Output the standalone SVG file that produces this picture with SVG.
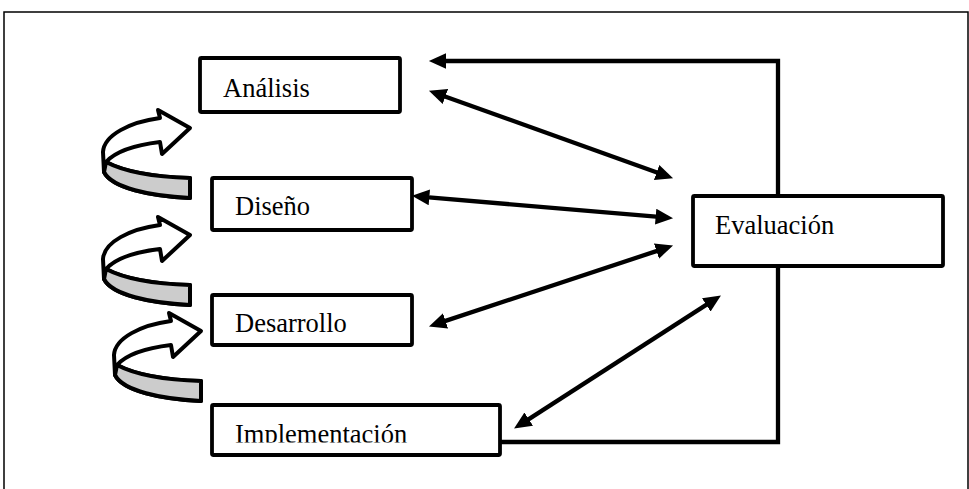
<svg xmlns="http://www.w3.org/2000/svg" width="969" height="489" viewBox="0 0 969 489">
<style>
.box{fill:#fff;stroke:#000;stroke-width:3.8}
.lbl{font-family:"Liberation Serif","Times New Roman",serif;font-size:26.5px;fill:#000}
.con{fill:none;stroke:#000;stroke-width:4.3;stroke-linejoin:miter}
.cw{fill:#fff;stroke:#000;stroke-width:4;stroke-linejoin:round}
.cg{fill:#cccccc;stroke:#000;stroke-width:4;stroke-linejoin:round}
</style>
<defs>
<marker id="ah" markerUnits="userSpaceOnUse" markerWidth="18" markerHeight="16" refX="6" refY="7.5" orient="auto-start-reverse" viewBox="0 0 17 15">
<path d="M0,0 L16.5,7.5 L0,15 Z" fill="#000"/>
</marker>
<clipPath id="clipImpl"><rect x="212" y="405" width="288" height="37.5"/></clipPath>
<g id="curl">
<path class="cw" d="M100,98 C60,96 22,88 14,72 L13,52 C14,35 40,22 70,18 L68,10 L100,28 L72,54 L70,42 C45,45 25,52 16,62 C35,72 65,77 100,78 Z"/>
<path class="cg" d="M16,62 C35,72 65,77 100,78 L100,98 C60,96 22,88 14,72 Z"/>
</g>
</defs>
<rect x="4" y="12" width="964" height="500" fill="none" stroke="#000" stroke-width="1.5"/>
<g id="connectors">
<path class="con" d="M500,442 L778,442 L778,61 L440,61" marker-end="url(#ah)"/>
<line class="con" x1="439.4" y1="94.4" x2="662.6" y2="174.6" marker-start="url(#ah)" marker-end="url(#ah)"/>
<line class="con" x1="423" y1="196.8" x2="662" y2="217.2" marker-start="url(#ah)" marker-end="url(#ah)"/>
<line class="con" x1="439.5" y1="322.9" x2="662.5" y2="249.1" marker-start="url(#ah)" marker-end="url(#ah)"/>
<line class="con" x1="523.4" y1="422.6" x2="711.6" y2="301.4" marker-start="url(#ah)" marker-end="url(#ah)"/>
</g>
<g id="curl1"><use href="#curl" transform="translate(90,100)"/></g>
<g id="curl2"><use href="#curl" transform="translate(90,207)"/></g>
<g id="curl3"><use href="#curl" transform="translate(101,303)"/></g>
<g id="analisis">
<rect class="box" x="200" y="58" width="200" height="54" rx="1.5"/>
<text class="lbl" x="223" y="97">Análisis</text>
</g>
<g id="diseno">
<rect class="box" x="212" y="178" width="200" height="52" rx="1.5"/>
<text class="lbl" x="235" y="215">Diseño</text>
</g>
<g id="desarrollo">
<rect class="box" x="212" y="295" width="200" height="50" rx="1.5"/>
<text class="lbl" x="235" y="332">Desarrollo</text>
</g>
<g id="implementacion">
<rect class="box" x="212" y="405" width="288" height="50" rx="1.5"/>
<text class="lbl" x="235" y="443" clip-path="url(#clipImpl)">Implementación</text>
</g>
<g id="evaluacion">
<rect class="box" x="693" y="196" width="250" height="70" rx="1.5"/>
<text class="lbl" x="715" y="234">Evaluación</text>
</g>
</svg>
